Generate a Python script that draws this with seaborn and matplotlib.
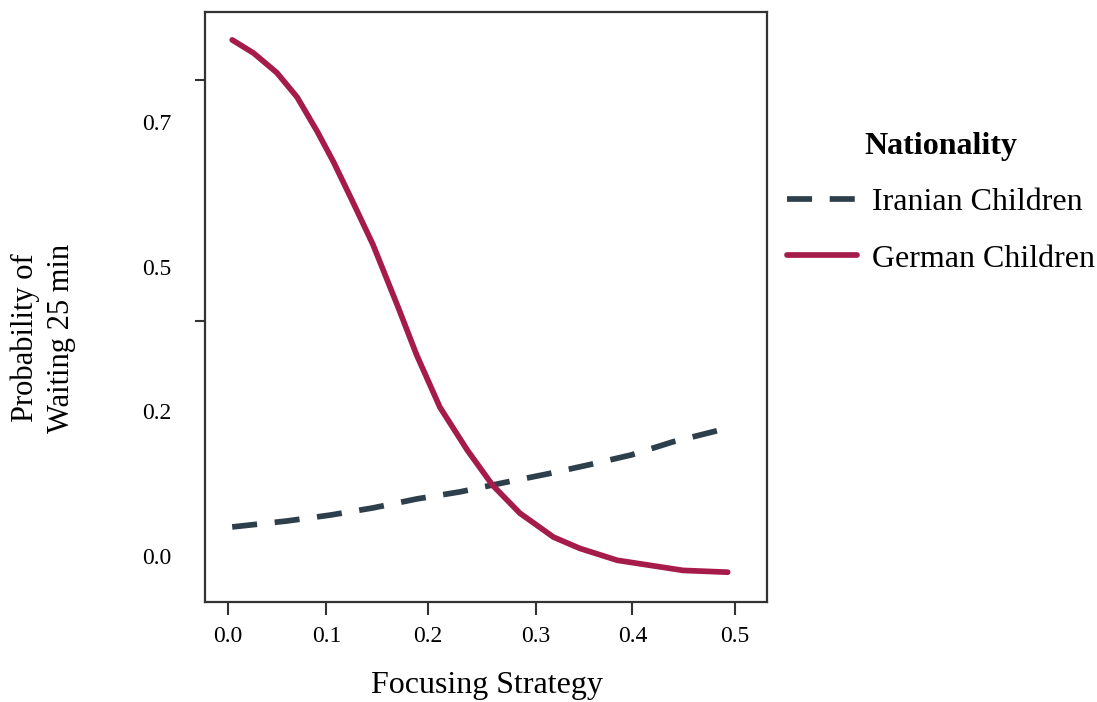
import matplotlib
matplotlib.use('Agg')
import matplotlib.pyplot as plt
import seaborn as sns
import pandas as pd

# values
german_x = [0.004, 0.025, 0.048, 0.068, 0.088, 0.104, 0.123, 0.143, 0.168,
            0.186, 0.209, 0.236, 0.261, 0.288, 0.321, 0.347, 0.384, 0.449,
            0.493]
german_y = [0.867, 0.845, 0.812, 0.771, 0.713, 0.662, 0.595, 0.523, 0.417,
            0.338, 0.250, 0.178, 0.119, 0.072, 0.032, 0.013, -0.007, -0.024,
            -0.027]
iranian_x = [0.004, 0.058, 0.101, 0.143, 0.186, 0.229, 0.271, 0.315, 0.355,
             0.398, 0.439, 0.493]
iranian_y = [0.049, 0.059, 0.069, 0.081, 0.096, 0.108, 0.123, 0.138, 0.153,
             0.170, 0.192, 0.215]

groups = ['Iranian Children', 'German Children']
xtick_pos = [0.0, 0.097, 0.197, 0.304, 0.399, 0.5]
xtick_labels = ['0.0', '0.1', '0.2', '0.3', '0.4', '0.5']
ytick_pos = [0.729, 0.486, 0.244, 0.0]
ytick_labels = ['0.7', '0.5', '0.2', '0.0']
ymark_pos = [0.8, 0.395, 0.0]

df = pd.concat([
    pd.DataFrame({'x': iranian_x, 'y': iranian_y, 'group': groups[0]}),
    pd.DataFrame({'x': german_x, 'y': german_y, 'group': groups[1]}),
])

sns.set_theme(style="ticks", rc={"text.color": "black",
                                 "xtick.color": "black",
                                 "ytick.color": "black"})
plt.rcParams['font.family'] = ['Liberation Serif', 'DejaVu Serif']

fig = plt.figure(figsize=(10.97, 7.02), dpi=100)
ax = fig.add_axes([0.187, 0.1425, 0.512, 0.8405])

palette = {'Iranian Children': '#2e3f4c', 'German Children': '#a51c4a'}
sns.lineplot(data=df, x='x', y='y', hue='group', style='group',
             hue_order=groups, style_order=groups, palette=palette,
             dashes={'Iranian Children': (4.4, 3.1), 'German Children': ''},
             linewidth=4.1, sort=False, ax=ax)
for ln in ax.lines:
    ln.set_solid_joinstyle('round')

ax.set_xlim(-0.0227, 0.5316)
ax.set_ylim(-0.077, 0.914)

ax.set_xticks(xtick_pos)
ax.set_xticklabels(xtick_labels, fontsize=17)
ax.set_yticks(ytick_pos)
ax.set_yticklabels(ytick_labels, fontsize=17)
ax.set_yticks(ymark_pos, minor=True)
ax.tick_params(axis='y', which='major', length=0, pad=24)
ax.tick_params(axis='y', which='minor', length=7, width=1.5, color='#333333')
ax.tick_params(axis='x', which='major', length=9, width=1.5,
               color='#333333', pad=8)

for s in ax.spines.values():
    s.set_color('#333333')
    s.set_linewidth(1.6)

ax.set_xlabel('')
ax.set_ylabel('')
fig.text(487 / 1097, 1 - 685 / 702, 'Focusing Strategy', fontsize=23,
         ha='center', va='center')
fig.text(43 / 1097, 1 - 338 / 702, 'Probability of\nWaiting 25 min',
         fontsize=22, rotation=90, ha='center', va='center',
         linespacing=1.3)

leg = ax.legend(title='Nationality', loc='upper left',
                bbox_to_anchor=(0.985, 0.846), frameon=False,
                fontsize=23, title_fontsize=23, handlelength=2.2,
                handletextpad=0.45, labelspacing=0.85)
leg.get_title().set_fontweight('bold')

plt.savefig('out.png', dpi=100)
plt.close()
